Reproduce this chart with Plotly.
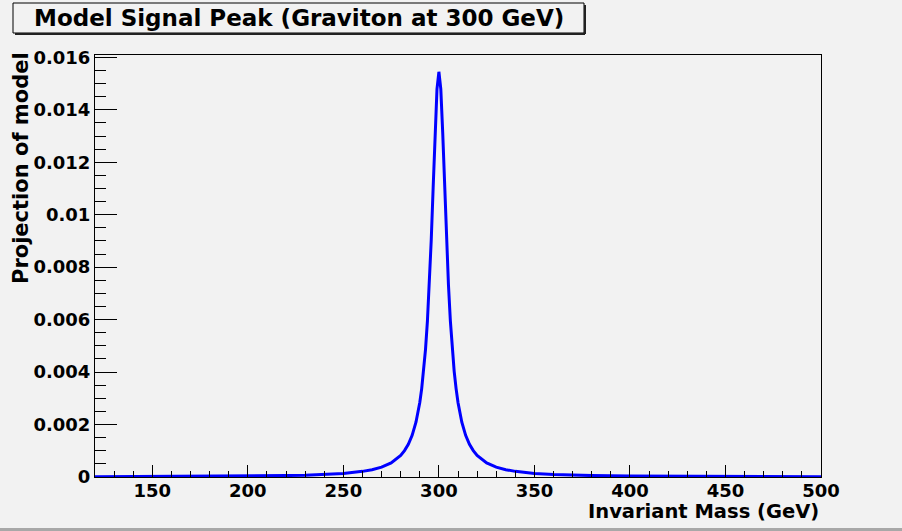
import plotly.graph_objects as go

# ---- data ----
mass = [120, 150, 180, 200, 220, 230, 240, 250, 260, 265, 270, 275, 280, 282, 284, 286, 288,
        290, 291, 292, 293, 294, 295, 296, 297, 298, 299, 300,
        301, 302, 303, 304, 305, 306, 307, 308, 309, 310, 312, 314, 316, 318, 320,
        325, 330, 335, 340, 350, 360, 370, 380, 400, 420, 450, 480, 500]
projection = [0.0000108, 0.0000155, 0.0000242, 0.0000348, 0.0000543, 0.0000708, 0.0000962,
              0.000138, 0.000215, 0.000279, 0.000378, 0.000538, 0.000825, 0.001006, 0.00125,
              0.00159, 0.00209, 0.00284, 0.00337, 0.00403, 0.00487, 0.00595, 0.00733, 0.00904,
              0.01104, 0.01312, 0.01479, 0.01545,
              0.01479, 0.01312, 0.01104, 0.00904, 0.00733, 0.00595, 0.00487, 0.00403, 0.00337,
              0.00284, 0.00209, 0.00159, 0.00125, 0.001006, 0.000825,
              0.000538, 0.000378, 0.000279, 0.000215, 0.000138, 0.0000962, 0.0000708, 0.0000543,
              0.0000348, 0.0000242, 0.0000155, 0.0000108, 0.0000087]

x_tick_vals = [150, 200, 250, 300, 350, 400, 450, 500]
x_tick_text = ["150", "200", "250", "300", "350", "400", "450", "500"]
y_tick_vals = [0, 0.002, 0.004, 0.006, 0.008, 0.010, 0.012, 0.014, 0.016]
y_tick_text = ["0", "0.002", "0.004", "0.006", "0.008", "0.01", "0.012", "0.014", "0.016"]

title_text = "Model Signal Peak (Graviton at 300 GeV)"
x_title = "Invariant Mass (GeV)"
y_title = "Projection of model"

# ---- layout geometry ----
W, H = 902, 531
L, R, T, B = 95, 821, 55, 477
BG = "#f2f2f2"
FONT = "DejaVu Sans"


def px(x):
    return (x - L) / (R - L)


def py(y):
    return (B - y) / (B - T)


fig = go.Figure()
fig.add_trace(go.Scatter(x=mass, y=projection, mode="lines",
                         line=dict(color="#0000ff", width=3), hoverinfo="skip",
                         showlegend=False))

fig.update_layout(
    width=W, height=H,
    margin=dict(l=L, r=W - R, t=T, b=H - B, pad=0),
    paper_bgcolor=BG, plot_bgcolor=BG,
    showlegend=False,
    xaxis=dict(range=[120, 500], showgrid=False, zeroline=False,
               showline=True, linecolor="black", linewidth=1, mirror=True,
               ticks="inside", ticklen=12, tickwidth=1, tickcolor="black",
               tickmode="array", tickvals=x_tick_vals, ticktext=x_tick_text,
               ticklabelstandoff=-3,
               tickfont=dict(family=FONT, size=18, color="black", weight="bold"),
               minor=dict(ticks="inside", ticklen=6, tickwidth=1, tickcolor="black",
                          tickmode="linear", tick0=0, dtick=10, showgrid=False)),
    yaxis=dict(range=[0, 0.01609], showgrid=False, zeroline=False,
               showline=True, linecolor="black", linewidth=1, mirror=True,
               ticks="inside", ticklen=22, tickwidth=1, tickcolor="black",
               tickmode="array", tickvals=y_tick_vals, ticktext=y_tick_text,
               tickfont=dict(family=FONT, size=18, color="black", weight="bold"),
               minor=dict(ticks="inside", ticklen=11, tickwidth=1, tickcolor="black",
                          tickmode="linear", tick0=0, dtick=0.0005, showgrid=False)),
)

shapes = [
    # title box
    dict(type="rect", xref="paper", yref="paper",
         x0=px(13), x1=px(584), y0=py(33), y1=py(3),
         line=dict(color="black", width=1), fillcolor=BG, layer="above"),
    dict(type="line", xref="paper", yref="paper",
         x0=px(15), x1=px(585), y0=py(34), y1=py(34),
         line=dict(color="#222222", width=2)),
    dict(type="line", xref="paper", yref="paper",
         x0=px(585), x1=px(585), y0=py(5), y1=py(34),
         line=dict(color="#222222", width=2)),
    # canvas bottom bevel
    dict(type="rect", xref="paper", yref="paper",
         x0=px(0), x1=px(W), y0=py(531), y1=py(528),
         line=dict(width=0), fillcolor="#a8a8a8"),
]
fig.update_layout(shapes=shapes)

annotations = [
    dict(text=title_text, xref="paper", yref="paper", x=px(298.5), y=py(18),
         xanchor="center", yanchor="middle", showarrow=False,
         font=dict(family=FONT, size=23, color="black", weight="bold")),
    dict(text=x_title, xref="paper", yref="paper", x=px(821), y=py(511),
         xanchor="right", yanchor="middle", showarrow=False,
         font=dict(family=FONT, size=19.5, color="black", weight="bold")),
    dict(text=y_title, xref="paper", yref="paper", x=px(21), y=py(168),
         xanchor="center", yanchor="middle", textangle=-90, showarrow=False,
         font=dict(family=FONT, size=21, color="black", weight="bold")),
]
fig.update_layout(annotations=annotations)

fig.write_html("out.html")
